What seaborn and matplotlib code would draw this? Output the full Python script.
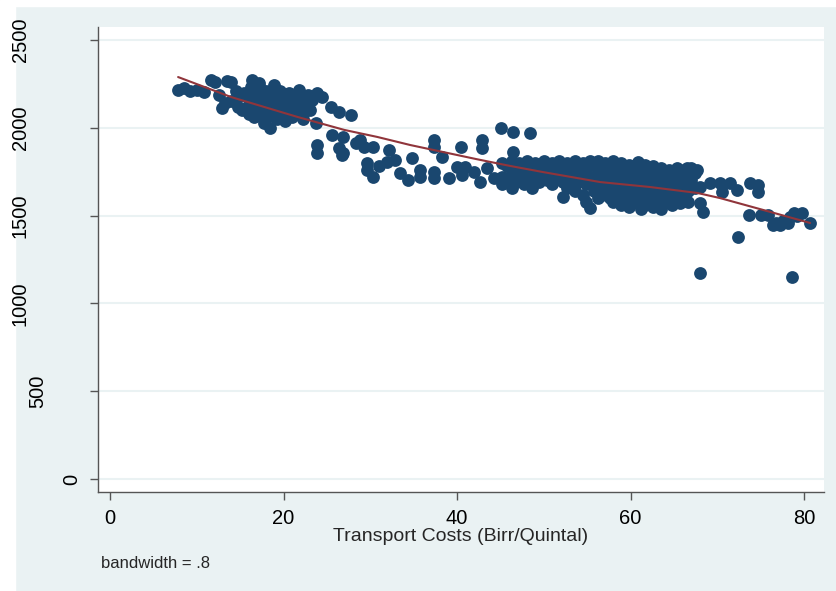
"""
Precio vs costo de transporte con curva lowess (estilo Stata s2color).
"""
import numpy as np
import pandas as pd
import matplotlib
matplotlib.use("Agg")
import matplotlib.pyplot as plt
import seaborn as sns
from matplotlib.patches import Rectangle

# Datos (costo de transporte, precio)
costo_bajo = [7.8, 8.5, 9.2, 10.0, 10.8, 11.6, 12.1, 13.5, 13.9, 12.6,
              12.9, 13.3, 14.0, 14.5, 14.8, 15.0, 15.2, 15.5, 15.8, 16.0,
              16.0, 16.3, 16.4, 16.5, 16.6, 16.8, 17.0, 17.0, 17.2, 17.2,
              17.4, 17.5, 17.7, 17.8, 17.8, 18.0, 18.0, 18.2, 18.4, 18.4,
              18.5, 18.7, 18.9, 18.9, 19.0, 19.2, 19.3, 19.5, 19.7, 19.8,
              20.0, 20.2, 20.3, 20.5, 20.8, 21.0, 21.2, 21.5, 21.7, 21.8,
              22.0, 22.3, 22.4, 22.6, 23.0, 23.3, 23.8, 23.9, 23.9, 23.9,
              24.4, 25.5, 25.6, 26.4, 26.4, 26.7, 19.6, 20.6, 21.4, 22.8]
precio_bajo = [2215, 2225, 2210, 2215, 2205, 2272, 2260, 2267, 2262, 2187,
               2113, 2140, 2150, 2210, 2120, 2180, 2100, 2200, 2120, 2180,
               2080, 2230, 2272, 2140, 2060, 2200, 2110, 2160, 2240, 2255,
               2080, 2190, 2130, 2050, 2027, 2210, 2100, 2160, 2070, 1999,
               2130, 2190, 2090, 2244, 2150, 2050, 2200, 2120, 2170, 2080,
               2140, 2040, 2190, 2100, 2160, 2060, 2120, 2180, 2090, 2215,
               2150, 2050, 2090, 2130, 2100, 2160, 2027, 2198, 1902, 1857,
               2175, 2118, 1959, 2090, 1885, 1845, 2210, 2200, 2195, 2185]

costo_medio = [27.8, 26.8, 26.8, 28.8, 29.3, 30.3, 29.6, 29.6, 30.3, 32.2,
               31.9, 32.8, 33.4, 34.3, 34.8, 35.7, 35.7, 37.4, 37.4, 37.4,
               37.4, 38.3, 39.1, 40.5, 40.0, 40.9, 40.6, 42.0, 42.6, 42.9,
               42.9, 43.4, 44.3, 45.3, 45.1, 46.4, 48.4, 46.4, 28.4, 31.0]
precio_medio = [2073, 1948, 1857, 1930, 1890, 1890, 1800, 1760, 1720, 1874,
                1805, 1817, 1743, 1703, 1828, 1760, 1720, 1930, 1890, 1748,
                1714, 1834, 1714, 1890, 1777, 1777, 1731, 1748, 1691, 1930,
                1885, 1771, 1714, 1714, 1999, 1976, 1970, 1862, 1915, 1780]

costo_banda = [45.2, 45.2, 45.2, 45.8, 45.8, 46.3, 46.3, 46.3, 46.8, 46.8,
               47.2, 47.2, 47.7, 47.7, 48.1, 48.1, 48.6, 48.6, 48.6, 49.0,
               49.0, 49.5, 49.5, 50.0, 50.0, 50.4, 50.4, 50.9, 50.9, 50.9,
               51.3, 51.3, 51.8, 51.8, 52.2, 52.2, 52.2, 52.7, 52.7, 52.7,
               53.1, 53.1, 53.6, 53.6, 53.6, 54.0, 54.0, 54.5, 54.5, 54.5,
               54.9, 54.9, 54.9, 55.3, 55.3, 55.3, 55.8, 55.8, 55.8, 56.2,
               56.2, 56.2, 56.7, 56.7, 56.7, 57.1, 57.1, 57.1, 57.6, 57.6,
               57.6, 58.0, 58.0, 58.0, 58.0, 58.5, 58.5, 58.5, 58.9, 58.9,
               58.9, 58.9, 59.4, 59.4, 59.4, 59.8, 59.8, 59.8, 59.8, 60.3,
               60.3, 60.3, 60.9, 60.9, 60.9, 60.9, 61.2, 61.2, 61.2, 61.2,
               61.7, 61.7, 61.7, 61.7, 62.1, 62.1, 62.1, 62.6, 62.6, 62.6,
               62.6, 63.0, 63.0, 63.0, 63.5, 63.5, 63.5, 63.5, 63.9, 63.9,
               63.9, 64.4, 64.4, 64.4, 64.8, 64.8, 64.8, 65.3, 65.3, 65.3,
               65.7, 65.7, 65.7, 66.2, 66.2, 66.2, 66.6, 66.6, 66.6, 67.0,
               67.0, 67.4, 67.4]
precio_banda = [1800, 1720, 1680, 1780, 1700, 1810, 1740, 1660, 1770, 1690,
                1800, 1720, 1760, 1680, 1810, 1730, 1780, 1700, 1660, 1800,
                1740, 1770, 1690, 1810, 1720, 1780, 1700, 1800, 1750, 1680,
                1770, 1710, 1810, 1740, 1780, 1690, 1606, 1800, 1730, 1660,
                1770, 1710, 1810, 1750, 1640, 1780, 1690, 1800, 1730, 1620,
                1760, 1680, 1580, 1810, 1720, 1543, 1790, 1700, 1640, 1810,
                1750, 1600, 1770, 1680, 1620, 1800, 1730, 1660, 1780, 1700,
                1600, 1810, 1740, 1650, 1580, 1770, 1690, 1610, 1800, 1720,
                1640, 1560, 1760, 1680, 1600, 1790, 1710, 1630, 1550, 1770,
                1690, 1610, 1805, 1740, 1660, 1570, 1760, 1680, 1600, 1540,
                1790, 1710, 1630, 1560, 1750, 1670, 1590, 1780, 1700, 1620,
                1550, 1740, 1660, 1580, 1770, 1690, 1610, 1540, 1730, 1650,
                1570, 1760, 1680, 1600, 1720, 1640, 1560, 1770, 1690, 1610,
                1730, 1650, 1570, 1760, 1680, 1600, 1720, 1640, 1580, 1770,
                1700, 1740, 1660]

costo_alto = [66.9, 67.7, 66.5, 68.0, 68.0, 68.4, 69.2, 70.3, 71.5, 70.6,
              72.3, 73.8, 74.7, 74.7, 72.4, 68.0, 78.6, 73.6, 75.0, 75.9,
              76.4, 77.2, 78.1, 78.8, 79.8, 80.7, 76.8, 77.6, 78.4, 79.2]
precio_alto = [1760, 1760, 1771, 1663, 1572, 1520, 1686, 1686, 1686, 1634,
               1646, 1686, 1674, 1634, 1378, 1173, 1150, 1503, 1503, 1503,
               1446, 1446, 1458, 1515, 1515, 1458, 1460, 1470, 1490, 1500]

# Curva lowess (bandwidth = .8)
costo_ajuste = [7.85, 13.97, 21.6, 27.0, 30.8, 34.6, 38.4, 42.2, 46.1, 49.9,
                56.5, 62.2, 67.7, 70.3, 75.3, 80.7]
precio_ajuste = [2289, 2175, 2062, 1988, 1948, 1902, 1862, 1822, 1783, 1748,
                 1691, 1663, 1629, 1600, 1532, 1458]

ticks_y = [0, 500, 1000, 1500, 2000, 2500]
ticks_x = [0, 20, 40, 60, 80]

FONDO = "#EAF2F3"
AZUL = "#1A476F"
GRANATE = "#90353B"


def configurar_estilo_grafico():
    """Configura el estilo de los graficos."""
    sns.set_style("white")
    plt.rcParams['font.family'] = ['Liberation Sans', 'DejaVu Sans']


configurar_estilo_grafico()

datos = pd.DataFrame({
    'costo': costo_bajo + costo_medio + costo_banda + costo_alto,
    'precio': precio_bajo + precio_medio + precio_banda + precio_alto,
})
ajuste = pd.DataFrame({'costo': costo_ajuste, 'precio': precio_ajuste})

fig = plt.figure(figsize=(8.36, 5.91), dpi=100, facecolor=FONDO)
# franjas blancas del recorte original
fig.patches.append(Rectangle((0, 0), 15 / 836, 1, transform=fig.transFigure,
                             color='white', zorder=-1))
fig.patches.append(Rectangle((0, 1 - 6 / 591), 1, 6 / 591, transform=fig.transFigure,
                             color='white', zorder=-1))

ax = fig.add_axes([97.7 / 836, 1 - 492 / 591, 726.3 / 836, 465 / 591])
ax.set_facecolor('white')

sns.scatterplot(data=datos, x='costo', y='precio', ax=ax, s=85,
                color=AZUL, linewidth=0, alpha=1, zorder=3)
sns.lineplot(data=ajuste, x='costo', y='precio', ax=ax, sort=False,
             color=GRANATE, linewidth=1.5, zorder=4)

ax.set_xlim(-1.42, 82.3)
ax.set_ylim(-74, 2574)
ax.set_yticks(ticks_y)
ax.set_xticks(ticks_x)
ax.yaxis.grid(True, color=FONDO, linewidth=1.5, zorder=0)
ax.xaxis.grid(False)
ax.set_axisbelow(True)

for lado in ['top', 'right']:
    ax.spines[lado].set_visible(False)
for lado in ['left', 'bottom']:
    ax.spines[lado].set_color('#555555')
    ax.spines[lado].set_linewidth(1.0)

ax.tick_params(axis='both', which='major', direction='out', length=6,
               width=1.0, color='#555555', labelsize=14.5, labelcolor='black',
               left=True, bottom=True)
ax.tick_params(axis='x', pad=6)
ax.tick_params(axis='y', pad=0)

ax.set_xlabel('Transport Costs (Birr/Quintal)', fontsize=14, labelpad=0)
ax.set_ylabel('')

# etiquetas verticales del eje y, desplazadas como en el original
bordes = {0: 90, 500: 56, 1000: 38, 1500: 38, 2000: 38, 2500: 38}
ancho_px = 726.3
for valor, etiqueta in zip(ticks_y, ax.get_yticklabels()):
    etiqueta.set_rotation(90)
    etiqueta.set_ha('right')
    etiqueta.set_va('center')
    etiqueta.set_x((bordes[valor] - 97.7) / ancho_px)

fig.text(101 / 836, 1 - 563 / 591, 'bandwidth = .8', fontsize=12,
         ha='left', va='center')

plt.savefig('out.png', dpi=100, facecolor=FONDO)
plt.close()
